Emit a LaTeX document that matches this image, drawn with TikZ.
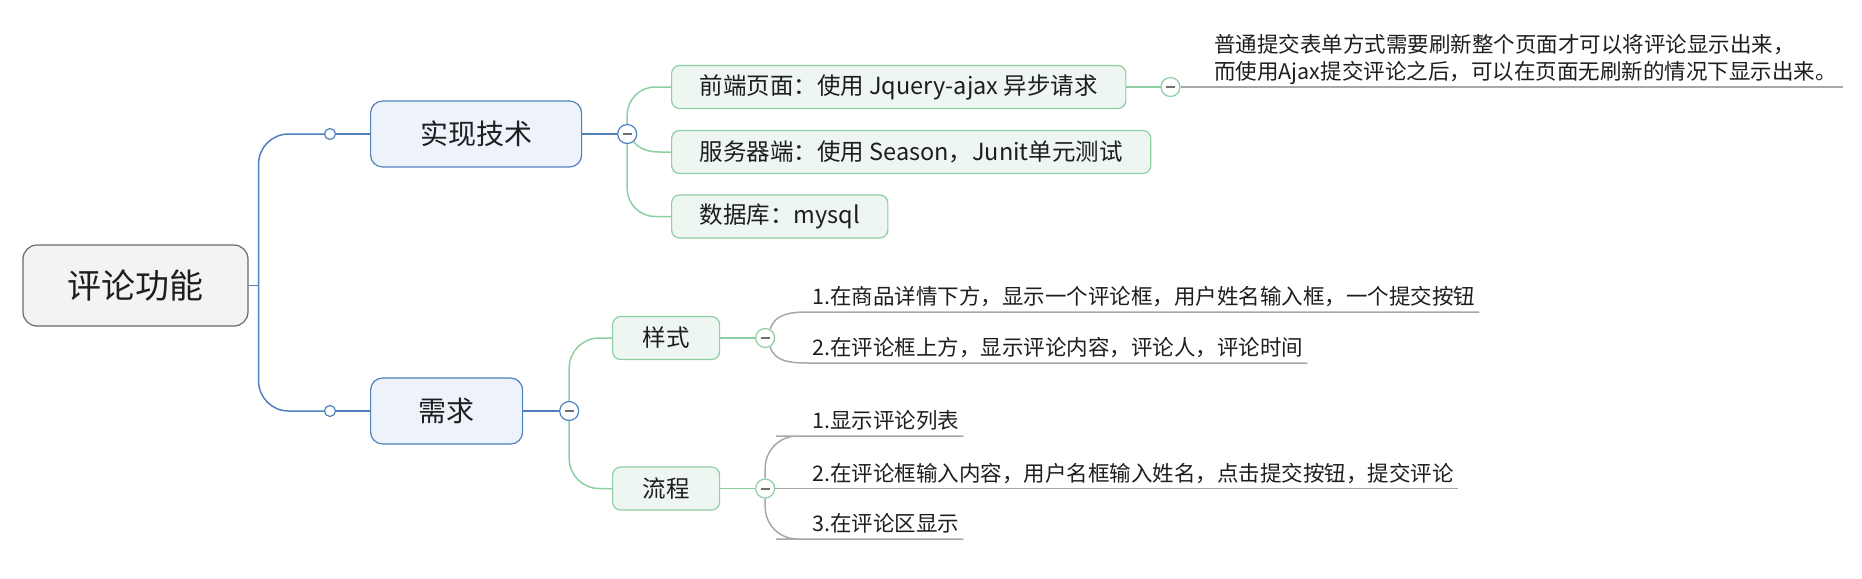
\documentclass[tikz,border=0pt]{standalone}
\usepackage{fontspec}
\setmainfont{Noto Sans CJK SC}
\definecolor{mapblue}{HTML}{4F81BD}
\definecolor{bluefill}{HTML}{EEF3FB}
\definecolor{mapgreen}{HTML}{8DCEA2}
\definecolor{greenfill}{HTML}{EEF6F1}
\definecolor{rootgray}{HTML}{6A6A6A}
\definecolor{rootfill}{HTML}{F3F3F3}
\definecolor{leafgray}{HTML}{A8A8A8}
\definecolor{minusgray}{HTML}{707070}
\definecolor{mapink}{HTML}{1E1E1E}
\begin{document}
\begin{tikzpicture}[x=1pt,y=-1pt,
			rootbox/.style={draw=rootgray,fill=rootfill,text=mapink,rounded corners=14pt,line width=1.2pt,minimum width=225pt,minimum height=81pt,font=\fontsize{34}{40}\selectfont},
			mainbox/.style={draw=mapblue,fill=bluefill,text=mapink,rounded corners=12pt,line width=1.2pt,inner xsep=47pt,minimum height=66pt,font=\fontsize{28}{34}\selectfont},
			subbox/.style={draw=mapgreen,fill=greenfill,text=mapink,rounded corners=8pt,line width=1.2pt,inner xsep=28pt,minimum height=43pt,font=\fontsize{23.5}{28}\selectfont},
			leaf/.style={anchor=south west,text=mapink,inner xsep=4pt,inner ysep=2pt,text height=18pt,text depth=5pt,font=\fontsize{21.5}{27}\selectfont},
			minusnode/.style={circle,fill=white,minimum size=19pt,inner sep=0pt,line width=1.2pt,path picture={\draw[minusgray,line width=2pt] ([xshift=-4.5pt]path picture bounding box.center) -- ([xshift=4.5pt]path picture bounding box.center);}},
			joint/.style={circle,draw=mapblue,fill=white,minimum size=11pt,inner sep=0pt,line width=1.2pt},
			blueline/.style={draw=mapblue,line width=1.5pt},
			greenline/.style={draw=mapgreen,line width=1.5pt},
			grayline/.style={draw=leafgray,line width=1.5pt}]
			\useasboundingbox (0,0) rectangle (1862,578);
			\node[rootbox] (root) at (135.5,285.5) {评论功能};
			\node[mainbox,anchor=west,minimum width=211pt] (tech) at (370,134) {实现技术};
			\node[mainbox,anchor=west,minimum width=152pt] (req) at (370,411) {需求};
			\node[joint] (tdot) at (330,134) {};
			\node[joint] (rdot) at (330,411) {};
			\draw[blueline] (root.east) -- ++(10,0) coordinate (trunk);
			\draw[blueline,rounded corners=30pt] (trunk) |- (tdot);
			\draw[blueline,rounded corners=30pt] (trunk) |- (rdot);
			\draw[blueline] (tdot) -- (tech);
			\draw[blueline] (rdot) -- (req);
			% 实现技术
			\draw[blueline] (tech.east) -- ++(45,0) node[minusnode,draw=mapblue,at end] (tminus) {};
			\node[subbox,anchor=west] (front) at (671,87) {前端页面：使用 Jquery-ajax 异步请求};
			\node[subbox,anchor=west] (serv) at (671,152) {服务器端：使用 Season，Junit单元测试};
			\node[subbox,anchor=west] (db) at (671,216.5) {数据库：mysql};
			\draw[greenline,rounded corners=28pt] (tminus) |- (front);
			\draw[greenline] (tminus) to[out=-50,in=180] (serv);
			\draw[greenline,rounded corners=28pt] (tminus) |- (db);
			\draw[greenline] (front.east) -- ++(44,0) node[minusnode,draw=mapgreen,at end] (nminus) {};
			\node[anchor=north west,inner sep=0pt,align=left,text=mapink,font=\fontsize{21.5}{27}\selectfont] (note) at (1214,34) {普通提交表单方式需要刷新整个页面才可以将评论显示出来，\\而使用Ajax提交评论之后，可以在页面无刷新的情况下显示出来。};
			\coordinate (nend) at (1843,87);
			\draw[grayline] (nminus) -- (nend);
			% 需求
			\draw[blueline] (req.east) -- ++(46,0) node[minusnode,draw=mapblue,at end] (rminus) {};
			\node[subbox,anchor=west,minimum width=107pt] (sty) at (612,338) {样式};
			\node[subbox,anchor=west,minimum width=107pt] (flow) at (612,488.5) {流程};
			\draw[greenline,rounded corners=30pt] (rminus) |- (sty);
			\draw[greenline,rounded corners=30pt] (rminus) |- (flow);
			\draw[greenline] (sty.east) -- ++(45,0) node[minusnode,draw=mapgreen,at end] (sminus) {};
			\draw[greenline] (flow.east) -- ++(45,0) node[minusnode,draw=mapgreen,at end] (fminus) {};
			\node[leaf] (sone) at (808,312) {1.在商品详情下方，显示一个评论框，用户姓名输入框，一个提交按钮};
			\node[leaf] (stwo) at (808,363) {2.在评论框上方，显示评论内容，评论人，评论时间};
			\node[leaf] (fone) at (808,436) {1.显示评论列表};
			\node[leaf] (ftwo) at (808,488.5) {2.在评论框输入内容，用户名框输入姓名，点击提交按钮，提交评论};
			\node[leaf] (fthree) at (808,539) {3.在评论区显示};
			\draw[grayline] (sminus.60) to[out=75,in=180] (sone.south west) -- (sone.south east);
			\draw[grayline] (sminus.-60) to[out=-75,in=180] (stwo.south west) -- (stwo.south east);
			\draw[grayline,rounded corners=32pt] (fminus) |- (fone.south west) -- (fone.south east);
			\draw[grayline] (fminus) -- (ftwo.south west) -- (ftwo.south east);
			\draw[grayline,rounded corners=32pt] (fminus) |- (fthree.south west) -- (fthree.south east);
		\end{tikzpicture}
\end{document}
